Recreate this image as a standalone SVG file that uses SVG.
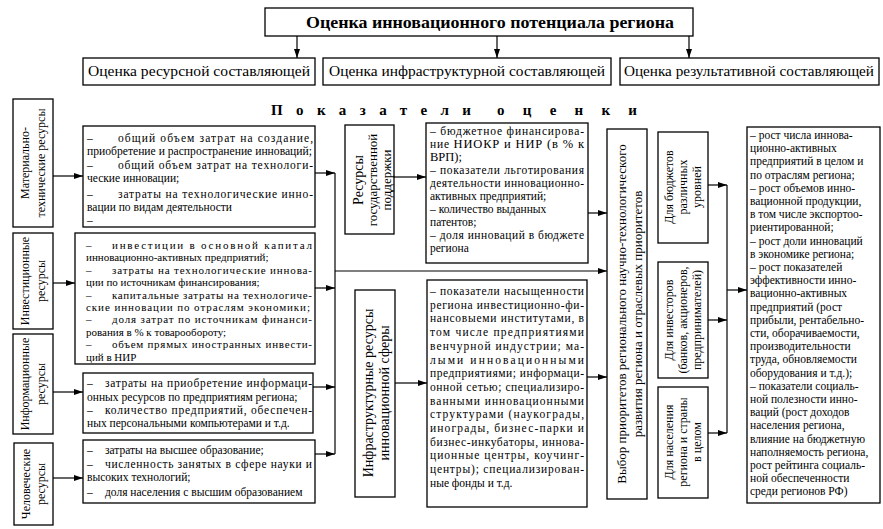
<svg xmlns="http://www.w3.org/2000/svg" width="883" height="529" viewBox="0 0 883 529">
<style>
.box{fill:#fff;stroke:#000;stroke-width:1.3}
text{font-family:"Liberation Serif","Times New Roman",serif;font-size:11.5px;fill:#000}
.r{text-anchor:middle;dominant-baseline:central;font-size:12px}
.m{text-anchor:middle}
.c{stroke:#000;stroke-width:1.2;fill:none}
.b{font-weight:bold}
.s{font-size:11px}
</style>
<defs>
<marker id="a" markerWidth="9" markerHeight="6" refX="9" refY="3" orient="auto" markerUnits="userSpaceOnUse"><path d="M0,0 L9,3 L0,6 z" fill="#000"/></marker>
</defs>
<rect width="883" height="529" fill="#fff"/>

<g id="top">
<rect class="box" x="265" y="8" width="428" height="28"/>
<text class="b" x="306" y="28" style="font-size:16.5px" textLength="368" lengthAdjust="spacingAndGlyphs">Оценка инновационного потенциала региона</text>
</g>
<g id="res">
<rect class="box" x="83" y="58" width="232" height="27"/>
<text class="m" x="199" y="76" style="font-size:15px" textLength="222" lengthAdjust="spacingAndGlyphs">Оценка ресурсной составляющей</text>
</g>
<g id="infr">
<rect class="box" x="323" y="58" width="288" height="27"/>
<text class="m" x="467" y="76" style="font-size:15px" textLength="276" lengthAdjust="spacingAndGlyphs">Оценка инфраструктурной составляющей</text>
</g>
<g id="rez">
<rect class="box" x="620" y="58" width="259" height="27"/>
<text class="m" x="749" y="76" style="font-size:15px" textLength="250" lengthAdjust="spacingAndGlyphs">Оценка результативной составляющей</text>
</g>
<g id="heading">
<text class="b" x="271" y="115" style="font-size:15px" textLength="200" lengthAdjust="spacing">Показатели</text>
<text class="b" x="497" y="115" style="font-size:15px" textLength="140" lengthAdjust="spacing">оценки</text>
</g>

<g id="mat">
<rect class="box" x="13" y="99" width="40" height="128"/>
<text class="r" transform="translate(25,163) rotate(-90)">Материально-</text>
<text class="r" transform="translate(41,163) rotate(-90)">технические ресурсы</text>
</g>
<g id="mat-t">
<rect class="box" x="83" y="126" width="232" height="101"/>
<text x="87" y="142">–</text><text x="118" y="142" textLength="195" lengthAdjust="spacing">общий объем затрат на создание,</text>
<text x="87" y="155" textLength="225" lengthAdjust="spacingAndGlyphs">приобретение и распространение инноваций;</text>
<text x="87" y="169">–</text><text x="118" y="169" textLength="195" lengthAdjust="spacing">общий объем затрат на технологи-</text>
<text x="87" y="182">ческие инновации;</text>
<text x="87" y="198">–</text><text x="118" y="198" textLength="195" lengthAdjust="spacing">затраты на технологические инно-</text>
<text x="87" y="211">вации по видам деятельности</text>
<text x="87" y="224">–</text>
</g>

<g id="inv">
<rect class="box" x="13" y="233" width="40" height="96"/>
<text class="r" transform="translate(25,281) rotate(-90)">Инвестиционные</text>
<text class="r" transform="translate(41,281) rotate(-90)">ресурсы</text>
</g>
<g id="inv-t">
<rect class="box" x="75" y="233" width="240" height="131"/>
<text class="s" x="86" y="249">–</text><text class="s" x="112" y="249" textLength="200" lengthAdjust="spacing">инвестиции в основной капитал</text>
<text class="s" x="86" y="261.4">инновационно-активных предприятий;</text>
<text class="s" x="86" y="273.8">–</text><text class="s" x="112" y="273.8" textLength="200" lengthAdjust="spacing">затраты на технологические иннова-</text>
<text class="s" x="86" y="286.2">ции по источникам финансирования;</text>
<text class="s" x="86" y="298.6">–</text><text class="s" x="112" y="298.6" textLength="200" lengthAdjust="spacing">капитальные затраты на технологиче-</text>
<text class="s" x="86" y="311" textLength="224" lengthAdjust="spacing">ские инновации по отраслям экономики;</text>
<text class="s" x="86" y="323.4">–</text><text class="s" x="112" y="323.4" textLength="200" lengthAdjust="spacing">доля затрат по источникам финанси-</text>
<text class="s" x="86" y="335.8">рования в % к товарообороту;</text>
<text class="s" x="86" y="348.2">–</text><text class="s" x="112" y="348.2" textLength="200" lengthAdjust="spacing">объем прямых иностранных инвести-</text>
<text class="s" x="86" y="360.6">ций в НИР</text>
</g>

<g id="info">
<rect class="box" x="13" y="334" width="40" height="100"/>
<text class="r" transform="translate(25,384) rotate(-90)">Информационные</text>
<text class="r" transform="translate(41,384) rotate(-90)">ресурсы</text>
</g>
<g id="info-t">
<rect class="box" x="83" y="373" width="230" height="60"/>
<text x="87" y="387">–</text><text x="105" y="387" textLength="207" lengthAdjust="spacing">затраты на приобретение информаци-</text>
<text x="87" y="401">онных ресурсов по предприятиям региона;</text>
<text x="87" y="414">–</text><text x="105" y="414" textLength="207" lengthAdjust="spacing">количество предприятий, обеспечен-</text>
<text x="87" y="427">ных персональными компьютерами и т.д.</text>
</g>

<g id="hum">
<rect class="box" x="14" y="443" width="39" height="82"/>
<text class="r" transform="translate(26,484) rotate(-90)">Человеческие</text>
<text class="r" transform="translate(41,484) rotate(-90)">ресурсы</text>
</g>
<g id="hum-t">
<rect class="box" x="83" y="440" width="232" height="63"/>
<text x="87" y="454">–</text><text x="105" y="454">затраты на высшее образование;</text>
<text x="87" y="467.5">–</text><text x="105" y="467.5" textLength="207" lengthAdjust="spacing">численность занятых в сфере науки и</text>
<text x="87" y="481">высоких технологий;</text>
<text x="87" y="496">–</text><text x="105" y="496">доля населения с высшим образованием</text>
</g>

<g id="gos">
<rect class="box" x="345" y="125" width="49" height="109"/>
<text class="r" style="font-size:14px" transform="translate(358,180) rotate(-90)">Ресурсы</text>
<text class="r" style="font-size:13px" transform="translate(372,180) rotate(-90)">государственной</text>
<text class="r" style="font-size:13px" transform="translate(386,180) rotate(-90)">поддержки</text>
</g>
<g id="gos-t">
<rect class="box" x="426" y="123" width="162" height="140"/>
<text x="430" y="135" textLength="154" lengthAdjust="spacing">– бюджетное финансирова-</text>
<text x="430" y="148" textLength="154" lengthAdjust="spacing">ние <tspan style="font-size:12.5px">НИОКР и НИР (в % к</tspan></text>
<text x="430" y="161" style="font-size:12.5px">ВРП);</text>
<text x="430" y="174" textLength="154" lengthAdjust="spacing">– показатели льготирования</text>
<text x="430" y="187" textLength="154" lengthAdjust="spacing">деятельности инновационно-</text>
<text x="430" y="200">активных предприятий;</text>
<text x="430" y="213">– количество выданных</text>
<text x="430" y="226">патентов;</text>
<text x="430" y="239" textLength="154" lengthAdjust="spacing">– доля инноваций в бюджете</text>
<text x="430" y="252">региона</text>
</g>

<g id="infra">
<rect class="box" x="355" y="290" width="40" height="207"/>
<text class="r" style="font-size:14px" transform="translate(368,393) rotate(-90)">Инфраструктурные ресурсы</text>
<text class="r" style="font-size:14px" transform="translate(384,393) rotate(-90)">инновационной сферы</text>
</g>
<g id="infra-t">
<rect class="box" x="427" y="280" width="160" height="227"/>
<text x="430" y="295" textLength="154" lengthAdjust="spacing">– показатели насыщенности</text>
<text x="430" y="308.7" textLength="154" lengthAdjust="spacing">региона инвестиционно-фи-</text>
<text x="430" y="322.4" textLength="154" lengthAdjust="spacing">нансовыеми институтами, в</text>
<text x="430" y="336.1" textLength="154" lengthAdjust="spacing">том числе предприятиями</text>
<text x="430" y="349.8" textLength="154" lengthAdjust="spacing">венчурной индустрии; ма-</text>
<text x="430" y="363.5" textLength="154" lengthAdjust="spacing">лыми инновационными</text>
<text x="430" y="377.2" textLength="154" lengthAdjust="spacing">предприятиями; информаци-</text>
<text x="430" y="390.9" textLength="154" lengthAdjust="spacing">онной сетью; специализиро-</text>
<text x="430" y="404.6" textLength="154" lengthAdjust="spacing">ванными инновационными</text>
<text x="430" y="418.3" textLength="154" lengthAdjust="spacing">структурами (наукограды,</text>
<text x="430" y="432" textLength="154" lengthAdjust="spacing">инограды, бизнес-парки и</text>
<text x="430" y="445.7" textLength="154" lengthAdjust="spacing">бизнес-инкубаторы, иннова-</text>
<text x="430" y="459.4" textLength="154" lengthAdjust="spacing">ционные центры, коучинг-</text>
<text x="430" y="473.1" textLength="154" lengthAdjust="spacing">центры); специализирован-</text>
<text x="430" y="486.8">ные фонды и т.д.</text>
</g>

<g id="vybor">
<rect class="box" x="607" y="129" width="40" height="370"/>
<text class="r" style="font-size:13px" transform="translate(621,314) rotate(-90)">Выбор приоритетов регионального научно-технологического</text>
<text class="r" style="font-size:13px" transform="translate(637,314) rotate(-90)">развития региона и отраслевых приоритетов</text>
</g>

<g id="budg">
<rect class="box" x="658" y="132" width="50" height="111"/>
<text class="r" transform="translate(669,187) rotate(-90)">Для бюджетов</text>
<text class="r" transform="translate(683,187) rotate(-90)">различных</text>
<text class="r" transform="translate(697,187) rotate(-90)">уровней</text>
</g>
<g id="invest">
<rect class="box" x="658" y="262" width="50" height="116"/>
<text class="r" transform="translate(669,320) rotate(-90)">Для инвесторов</text>
<text class="r" transform="translate(683,320) rotate(-90)">(банков, акционеров,</text>
<text class="r" transform="translate(697,320) rotate(-90)">предпринимателей)</text>
</g>
<g id="nas">
<rect class="box" x="658" y="387" width="50" height="111"/>
<text class="r" transform="translate(669,442) rotate(-90)">Для населения</text>
<text class="r" transform="translate(683,442) rotate(-90)">региона и страны</text>
<text class="r" transform="translate(697,442) rotate(-90)">в целом</text>
</g>

<g id="result">
<rect class="box" x="747" y="127" width="133" height="376"/>
<text x="750" y="139">–  рост числа иннова-</text>
<text x="750" y="152.2">ционно-активных</text>
<text x="750" y="165.4">предприятий в целом и</text>
<text x="750" y="178.6">по отраслям региона;</text>
<text x="750" y="191.8">–  рост объемов инно-</text>
<text x="750" y="205">вационной продукции,</text>
<text x="750" y="218.2">в том числе экспортоо-</text>
<text x="750" y="231.4">риентированной;</text>
<text x="750" y="244.6">–  рост доли инноваций</text>
<text x="750" y="257.8">в экономике региона;</text>
<text x="750" y="271">–  рост показателей</text>
<text x="750" y="284.2">эффективности инно-</text>
<text x="750" y="297.4">вационно-активных</text>
<text x="750" y="310.6">предприятий (рост</text>
<text x="750" y="323.8">прибыли, рентабельно-</text>
<text x="750" y="337">сти, оборачиваемости,</text>
<text x="750" y="350.2">производительности</text>
<text x="750" y="363.4">труда, обновляемости</text>
<text x="750" y="376.6">оборудования и т.д.);</text>
<text x="750" y="389.8">–  показатели социаль-</text>
<text x="750" y="403">ной полезности инно-</text>
<text x="750" y="416.2">ваций (рост доходов</text>
<text x="750" y="429.4">населения региона,</text>
<text x="750" y="442.6">влияние на бюджетную</text>
<text x="750" y="455.8">наполняемость региона,</text>
<text x="750" y="469">рост рейтинга социаль-</text>
<text x="750" y="482.2">ной обеспеченности</text>
<text x="750" y="495.4">среди регионов РФ)</text>
</g>

<g id="connectors">
<path class="c" marker-end="url(#a)" d="M297,36 V58"/>
<path class="c" marker-end="url(#a)" d="M497,36 V58"/>
<path class="c" marker-end="url(#a)" d="M689,36 V58"/>
<path class="c" marker-end="url(#a)" d="M53,176 H83"/>
<path class="c" marker-end="url(#a)" d="M53,283 H75"/>
<path class="c" marker-end="url(#a)" d="M53,392 H83"/>
<path class="c" marker-end="url(#a)" d="M53,478 H83"/>
<path class="c" marker-end="url(#a)" d="M315,173 H335"/>
<path class="c" marker-end="url(#a)" d="M315,288 H335"/>
<path class="c" marker-end="url(#a)" d="M313,387 H335"/>
<path class="c" marker-end="url(#a)" d="M315,454 H335"/>
<path class="c" d="M335,173 V454"/>
<path class="c" marker-end="url(#a)" d="M335,271 H607"/>
<path class="c" marker-end="url(#a)" d="M394,177 H426"/>
<path class="c" marker-end="url(#a)" d="M588,213 H607"/>
<path class="c" marker-end="url(#a)" d="M395,383 H427"/>
<path class="c" marker-end="url(#a)" d="M587,377 H607"/>
<path class="c" marker-end="url(#a)" d="M708,185 H727"/>
<path class="c" marker-end="url(#a)" d="M708,320 H727"/>
<path class="c" marker-end="url(#a)" d="M708,433 H727"/>
<path class="c" d="M727,185 V433"/>
<path class="c" marker-end="url(#a)" d="M727,290 H747"/>
</g>
</svg>
